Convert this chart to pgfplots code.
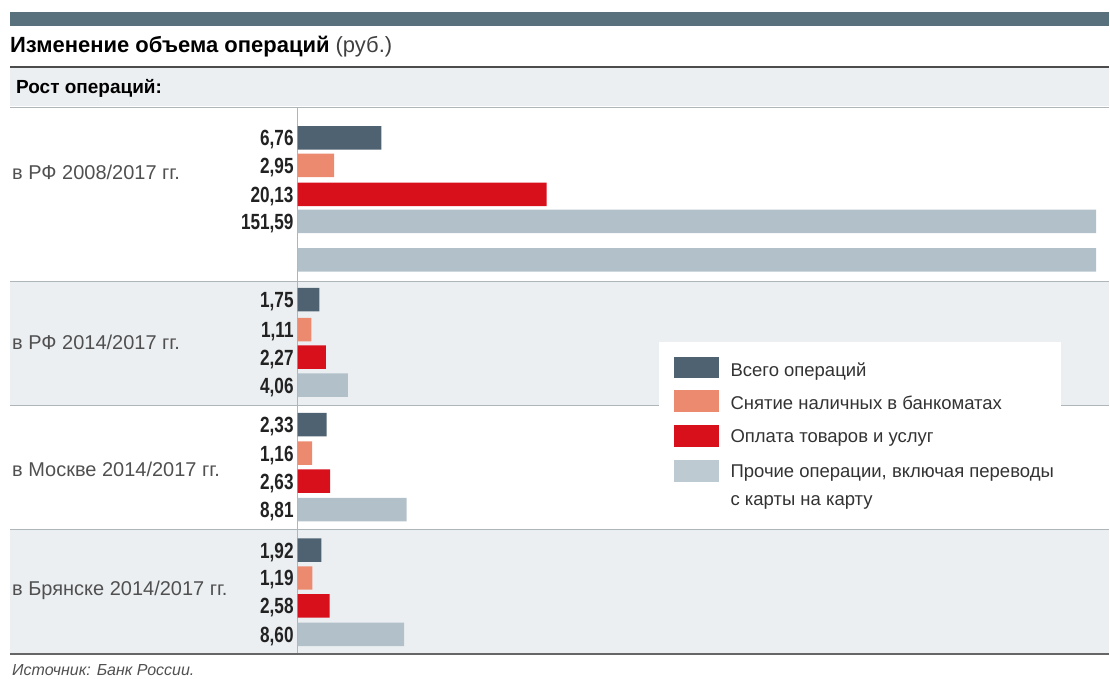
\documentclass[border=0pt]{standalone}
\usepackage{fontspec}
\setmainfont{Liberation Sans}
\newfontfamily\cond{Liberation Sans}[FakeStretch=0.78]
\usepackage{pgfplots}
\pgfplotsset{compat=1.18}
\definecolor{cTot}{HTML}{4E6272}
\definecolor{cATM}{HTML}{EC8A70}
\definecolor{cPay}{HTML}{D7101C}
\definecolor{cOth}{HTML}{B2C1C9}
\definecolor{band}{HTML}{ECEFF2}
\definecolor{topbar}{HTML}{58717D}
\definecolor{sep}{HTML}{AEB6BA}
\definecolor{lbl}{HTML}{222222}
\definecolor{grp}{HTML}{505050}
\begin{document}
\begin{tikzpicture}
\begin{scope}[x=1pt,y=-1pt]
\useasboundingbox (0,0) rectangle (1110,679);
% backgrounds
\fill[topbar] (10,12) rectangle (1110,26);
\fill[band] (10,68) rectangle (1110,106);
\fill[band] (10,282) rectangle (1110,406);
\fill[band] (10,530) rectangle (1110,654);
\draw[line width=1.2pt, black!70] (10,67) -- (1110,67);
\draw[line width=0.8pt, sep] (10,107) -- (1110,107);
\draw[line width=0.8pt, sep] (10,282) -- (1110,282);
\draw[line width=0.8pt, sep] (10,406) -- (1110,406);
\draw[line width=0.8pt, sep] (10,530) -- (1110,530);
\draw[line width=0.8pt, sep] (298,108) -- (298,654);
\fill[white] (660,342) rectangle (1062,519);
\end{scope}
% axis with bars
\begin{axis}[at={(298pt,-108pt)}, anchor=north west, scale only axis,
  width=799pt, height=547pt, xmin=0, xmax=64.59, ymin=108, ymax=655,
  y dir=reverse, axis lines=none, xbar, bar width=23.5pt, bar shift=0pt, clip=true]
\addplot[fill=cTot, draw=none] coordinates {(6.76,138) (1.75,300) (2.33,425) (1.92,550.5)};
\addplot[fill=cATM, draw=none] coordinates {(2.95,165.5) (1.11,330) (1.16,453.5) (1.19,578.5)};
\addplot[fill=cPay, draw=none] coordinates {(20.13,194.5) (2.27,357.5) (2.63,481.5) (2.58,606.5)};
\addplot[fill=cOth, draw=none] coordinates {(151.59,221.5) (151.59,260) (4.06,385.5) (8.81,510) (8.60,635)};
\end{axis}
\begin{scope}[x=1pt,y=-1pt]
\draw[line width=2pt, black!60] (10,655) -- (1110,655);
% titles
\node[anchor=base west, inner sep=0] at (10,53) {\fontsize{22}{24}\selectfont\bfseries Изменение объема операций \mdseries\color{black!75}(руб.)};
\node[anchor=base west, inner sep=0] at (16,94) {\fontsize{19}{21}\selectfont\bfseries Рост операций:};
% group labels
\foreach \t/\y in {{в РФ 2008/2017 гг.}/180, {в РФ 2014/2017 гг.}/350, {в Москве 2014/2017 гг.}/477, {в Брянске 2014/2017 гг.}/596}
  \node[anchor=base west, inner sep=0, text=grp] at (12,\y) {\fontsize{20}{22}\selectfont \t};
% value labels
\foreach \v/\y in {6{,}76/138, 2{,}95/165.5, 20{,}13/194.5, 151{,}59/221.5,
  1{,}75/300, 1{,}11/330, 2{,}27/357.5, 4{,}06/385.5,
  2{,}33/425, 1{,}16/453.5, 2{,}63/481.5, 8{,}81/510,
  1{,}92/550.5, 1{,}19/578.5, 2{,}58/606.5, 8{,}60/635}
  \node[anchor=base east, inner sep=0, text=lbl] at (294,\y+8) {\cond\fontsize{22}{24}\selectfont\bfseries \v};
% legend
\fill[cTot] (675,357) rectangle (720,378);
\fill[cATM] (675,390) rectangle (720,412);
\fill[cPay] (675,425) rectangle (720,447);
\fill[cOth!85!white] (675,460) rectangle (720,482);
\foreach \t/\y in {{Всего операций}/377, {Снятие наличных в банкоматах}/410, {Оплата товаров и услуг}/443, {Прочие операции, включая переводы}/478, {с карты на карту}/506}
  \node[anchor=base west, inner sep=0, text=black!80] at (731,\y) {\fontsize{18.5}{20}\selectfont \t};
% source
\node[anchor=base west, inner sep=0, text=grp] at (12,676) {\fontsize{16}{18}\selectfont\itshape Источник: Банк России.};
\end{scope}
\end{tikzpicture}
\end{document}
